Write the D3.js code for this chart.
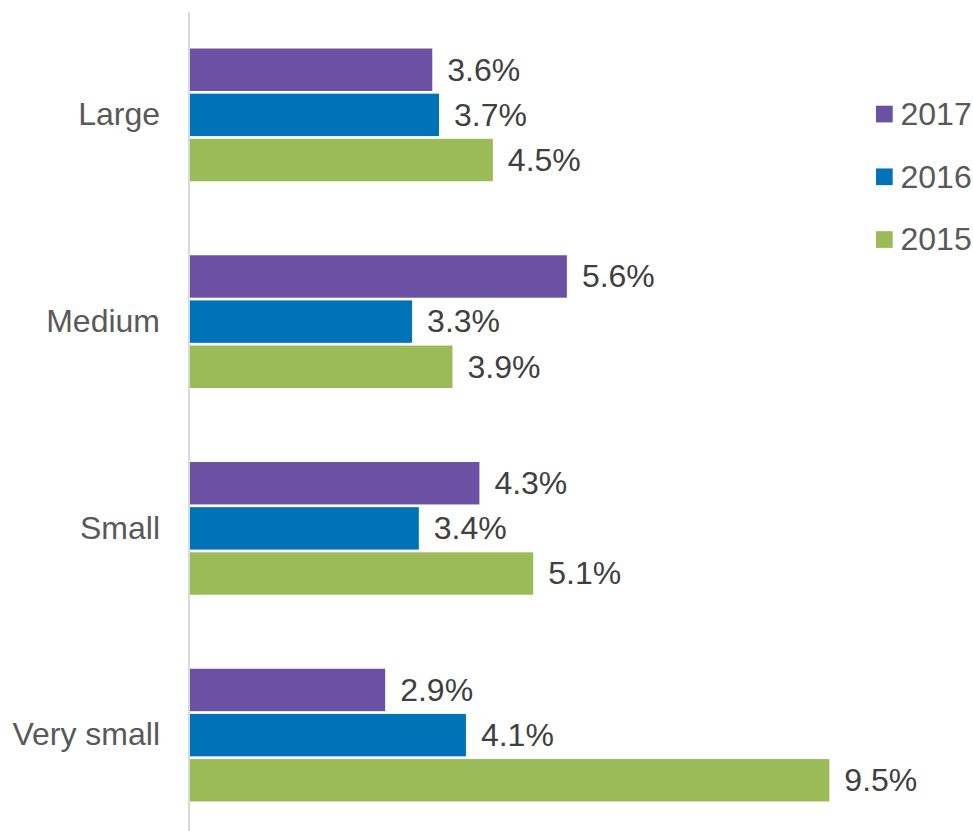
<!DOCTYPE html>
<html>
<head>
<meta charset="utf-8">
<script src="https://cdn.jsdelivr.net/npm/d3@7"></script>
<style>
  html, body { margin: 0; padding: 0; background: #fff; }
  svg { display: block; font-family: "Liberation Sans", Arial, sans-serif; }
</style>
</head>
<body>
<svg id="chart" width="973" height="831"></svg>
<script>
// Business size categories and yearly rates (%)
const categories = ["Large", "Medium", "Small", "Very small"];
const series = ["2017", "2016", "2015"];
const values2017 = [3.6, 5.6, 4.3, 2.9];
const values2016 = [3.7, 3.3, 3.4, 4.1];
const values2015 = [4.5, 3.9, 5.1, 9.5];
const colors = ["#6a51a3", "#0072b8", "#9bbb59"];

const valuesBySeries = { "2017": values2017, "2016": values2016, "2015": values2015 };

const svg = d3.select("#chart");

const x = d3.scaleLinear().domain([0, 10]).range([190, 863]);

const y0 = d3.scaleBand()
  .domain(categories)
  .range([11.5, 838.5])
  .paddingInner(0.358)
  .paddingOuter(0.179);

const y1 = d3.scaleBand()
  .domain(series)
  .range([0, y0.bandwidth()])
  .paddingInner(0.06)
  .paddingOuter(0);

const color = d3.scaleOrdinal().domain(series).range(colors);

// vertical category axis line
svg.append("line")
  .attr("x1", 189).attr("x2", 189)
  .attr("y1", 12).attr("y2", 831)
  .attr("stroke", "#d9d9d9")
  .attr("stroke-width", 2);

const groups = svg.selectAll("g.cat")
  .data(categories)
  .join("g")
  .attr("class", "cat")
  .attr("transform", d => `translate(0,${y0(d)})`);

const cells = groups.selectAll("g.bar")
  .data((c, i) => series.map(s => ({ cat: c, s, v: valuesBySeries[s][i] })))
  .join("g")
  .attr("class", "bar");

cells.append("rect")
  .attr("x", x(0))
  .attr("y", d => y1(d.s))
  .attr("width", d => x(d.v) - x(0))
  .attr("height", y1.bandwidth())
  .attr("fill", d => color(d.s));

cells.append("text")
  .attr("x", d => x(d.v) + 15)
  .attr("y", d => y1(d.s) + y1.bandwidth() / 2)
  .attr("dy", "0.34em")
  .attr("font-size", 32)
  .attr("fill", "#404040")
  .text(d => d.v.toFixed(1) + "%");

// category labels
groups.append("text")
  .attr("x", 160)
  .attr("y", y0.bandwidth() / 2)
  .attr("dy", "0.32em")
  .attr("text-anchor", "end")
  .attr("font-size", 32)
  .attr("fill", "#595959")
  .text(d => d);

// legend
const legendY = d3.scalePoint().domain(series).range([114, 239.5]);
const legend = svg.selectAll("g.legend")
  .data(series)
  .join("g")
  .attr("class", "legend")
  .attr("transform", d => `translate(876,${legendY(d)})`);

legend.append("rect")
  .attr("x", 0).attr("y", -8.3)
  .attr("width", 16.7).attr("height", 16.7)
  .attr("fill", d => color(d));

legend.append("text")
  .attr("x", 24.5)
  .attr("y", 0)
  .attr("dy", "0.34em")
  .attr("font-size", 32)
  .attr("fill", "#595959")
  .text(d => d);
</script>
</body>
</html>
